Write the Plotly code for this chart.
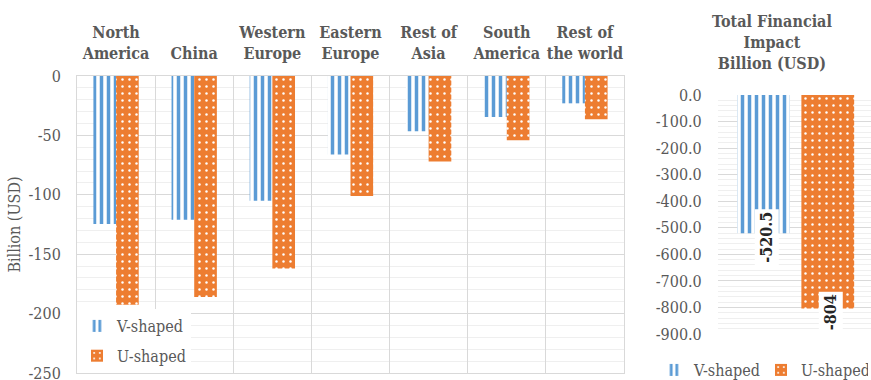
import plotly.graph_objects as go

# Regional impact, billion USD
regions = ["North America", "China", "Western Europe", "Eastern Europe",
           "Rest of Asia", "South America", "Rest of the world"]
region_labels = ["North<br>America", "China", "Western<br>Europe", "Eastern<br>Europe",
                 "Rest of<br>Asia", "South<br>America", "Rest of<br>the world"]
v_shaped = [-124.5, -121, -105, -66, -46.5, -34.5, -23]
u_shaped = [-192.5, -186, -162, -101, -72, -54, -36.5]

# Totals, billion USD
total_category = ["Total"]
v_total = [-520.5]
u_total = [-804]

left_ticks = [0, -50, -100, -150, -200, -250]
right_ticks = [0, -100, -200, -300, -400, -500, -600, -700, -800, -900]

BLUE = "#5B9BD5"
ORANGE = "#ED7D31"
TEXT = "#595959"
GRID = "#D9D9D9"
MINOR = "#EFEFEF"
SERIF = "DejaVu Serif Condensed, DejaVu Serif"
FS = 16

v_pattern = dict(shape="|", fgcolor=BLUE, bgcolor="white", size=7, solidity=0.5, fgopacity=1)
u_pattern = dict(shape=".", fgcolor="white", bgcolor=ORANGE, size=7, solidity=0.1, fgopacity=1)

fig = go.Figure()

# Regional bars
fig.add_trace(go.Bar(
    x=regions, y=v_shaped, name="V-shaped", xaxis="x", yaxis="y",
    width=0.29, offset=-0.29,
    marker=dict(color=BLUE, pattern=v_pattern, line=dict(width=0)),
    legend="legend", legendgroup="v",
))
fig.add_trace(go.Bar(
    x=regions, y=u_shaped, name="U-shaped", xaxis="x", yaxis="y",
    width=0.29, offset=0.0,
    marker=dict(color=ORANGE, pattern=u_pattern, line=dict(width=0)),
    legend="legend", legendgroup="u",
))

# Total bars
bar_w = 0.345
v_off, u_off = -0.375, 0.045
fig.add_trace(go.Bar(
    x=total_category, y=v_total, name="V-shaped", xaxis="x2", yaxis="y2",
    width=bar_w, offset=v_off,
    marker=dict(color=BLUE, pattern=v_pattern, line=dict(width=0)),
    legend="legend2",
))
fig.add_trace(go.Bar(
    x=total_category, y=u_total, name="U-shaped", xaxis="x2", yaxis="y2",
    width=bar_w, offset=u_off,
    marker=dict(color=ORANGE, pattern=u_pattern, line=dict(width=0)),
    legend="legend2",
))

# Value labels on the total bars
for off, val in [(v_off, v_total[0]), (u_off, u_total[0])]:
    fig.add_annotation(
        x=off + bar_w / 2, y=val, xref="x2", yref="y2",
        text=f"<b>{val:g}</b>", showarrow=False, textangle=-90,
        font=dict(family=SERIF, size=FS, color="#262626"),
        bgcolor="white", xshift=3, yshift=-4, borderpad=2,
    )

# Title of the totals panel
fig.add_annotation(
    x=0.875, y=1.114, xref="paper", yref="paper",
    text="<b>Total Financial<br>Impact<br>Billion (USD)</b>",
    showarrow=False, yanchor="middle", xanchor="center",
    font=dict(family=SERIF, size=FS, color=TEXT),
)

tick_font = dict(family=SERIF, size=FS, color=TEXT)

fig.update_layout(
    width=871, height=380,
    margin=dict(l=77, r=0, t=76, b=7, autoexpand=False),
    paper_bgcolor="white", plot_bgcolor="white",
    barmode="overlay",
    showlegend=True,
    font=dict(family=SERIF, color=TEXT),
    xaxis=dict(
        domain=[0, 0.6889], type="category", side="top",
        categoryorder="array", categoryarray=regions,
        tickvals=regions, ticktext=region_labels, tickangle=0,
        tickfont=dict(family=SERIF, size=FS, color=TEXT, weight="bold"),
        tickson="boundaries", ticks="", ticklabelstandoff=10,
        showgrid=True, gridcolor=GRID, gridwidth=1,
        showline=True, linecolor=GRID, mirror=True,
        range=[-0.5, 6.5], fixedrange=True,
    ),
    yaxis=dict(
        domain=[0, 1], range=[-250, 0],
        tickvals=left_ticks, ticktext=[f"{t:g}" for t in left_ticks],
        tickfont=tick_font, ticks="outside", ticklen=12, tickcolor="rgba(0,0,0,0)",
        ticklabeloverflow="allow",
        showgrid=True, gridcolor=GRID,
        minor=dict(dtick=10, showgrid=True, gridcolor=MINOR),
        zeroline=False, showline=True, linecolor=GRID, mirror=True,
        title=dict(text="Billion (USD)", font=dict(family=SERIF, size=FS, color=TEXT), standoff=3),
    ),
    xaxis2=dict(
        domain=[0.8073, 1], anchor="y2", type="category",
        showticklabels=False, showgrid=False, showline=False, zeroline=False,
        range=[-0.5, 0.5], ticks="",
    ),
    yaxis2=dict(
        domain=[0.1313, 0.936], anchor="x2", range=[-900, 0],
        tickvals=right_ticks, ticktext=[f"{t:.1f}" for t in right_ticks],
        tickfont=tick_font, ticks="outside", ticklen=12, tickcolor="rgba(0,0,0,0)",
        showgrid=True, gridcolor=GRID,
        minor=dict(dtick=20, showgrid=True, gridcolor=MINOR),
        zeroline=False, showline=False,
    ),
    legend=dict(
        x=0, y=0, xanchor="left", yanchor="bottom",
        bgcolor="white", font=dict(family=SERIF, size=FS, color=TEXT),
        traceorder="grouped", itemwidth=30, tracegroupgap=6,
    ),
    legend2=dict(
        orientation="h", x=0.7267, y=0.01, xanchor="left", yanchor="middle",
        bgcolor="rgba(0,0,0,0)", font=dict(family=SERIF, size=FS, color=TEXT),
        itemwidth=30, entrywidth=62, entrywidthmode="pixels",
    ),
)

fig.write_html("out.html")
